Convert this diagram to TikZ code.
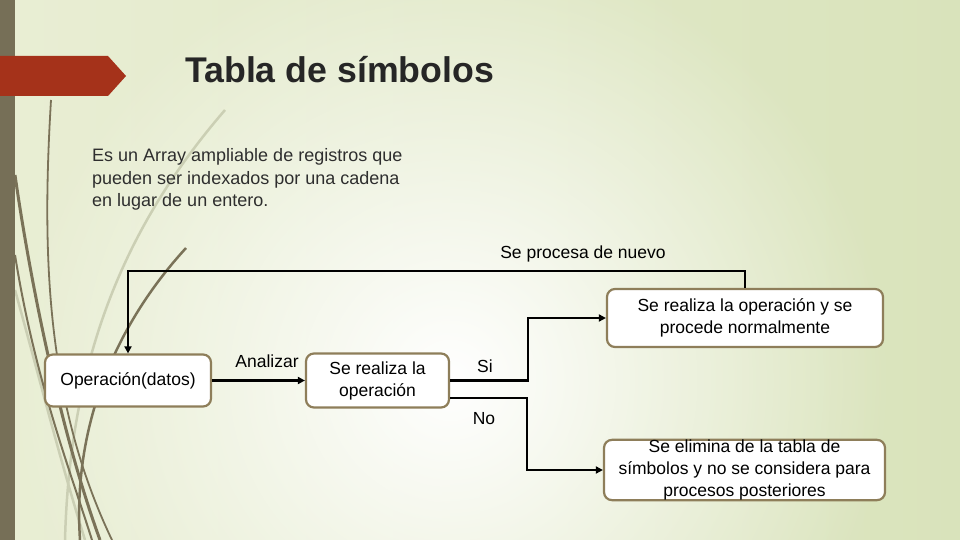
\documentclass[tikz,border=0pt]{standalone}
\usepackage{fontspec}
\setmainfont{Liberation Sans}
\usetikzlibrary{arrows.meta,fadings}
\definecolor{bar}{HTML}{766F57}
\definecolor{redarr}{HTML}{A5321A}
\definecolor{bgL}{HTML}{E9EED4}
\definecolor{bgR}{HTML}{D9E3BB}
\definecolor{boxline}{HTML}{8E7E5A}
\definecolor{curve}{HTML}{7A7258}
\definecolor{curvelight}{HTML}{CBCFB4}
\definecolor{bodytext}{HTML}{2E2E2E}
\tikzfading[name=myfade, inner color=transparent!0, outer color=transparent!100]
\tikzset{
  box/.style={draw=boxline, line width=2.2pt, fill=white, rounded corners=8pt,
    inner sep=0pt, align=center, font=\fontsize{17.5}{22}\selectfont},
  arr/.style={line width=2.4pt, -{Triangle[length=7pt,width=7pt]}},
  lbl/.style={font=\fontsize{17.5}{22}\selectfont, inner sep=0pt},
  body/.style={font=\fontsize{18}{22}\selectfont, text=bodytext, inner sep=0pt, anchor=base west},
  deco/.style={draw=curve, line width=2.5pt},
  decolight/.style={draw=curvelight, line width=2.5pt}
}
\begin{document}
\begin{tikzpicture}[x=1pt,y=-1pt]
\useasboundingbox (0,0) rectangle (960,540);
% background
\shade[left color=bgL, right color=bgR] (0,0) rectangle (960,540);
\fill[white, path fading=myfade, fit fading=true] (450,380) circle (440);
% decorative curves
\begin{scope}
\clip (0,0) rectangle (960,540);
\draw[decolight] (225,110) .. controls (130,220) and (70,350) .. (65,540);
\draw[decolight] (15,290) .. controls (40,380) and (60,460) .. (85,540);
\draw[deco, line width=1.8pt] (51,100) .. controls (42,250) and (45,400) .. (112,540);
\draw[deco, line width=3pt] (15,175) .. controls (30,280) and (60,430) .. (100,540);
\draw[deco, line width=2pt] (15,255) .. controls (35,380) and (70,470) .. (92,540);
\draw[deco, line width=2.5pt] (186,248) .. controls (120,320) and (72,420) .. (80,540);
\end{scope}
% left bar and red arrow
\fill[bar] (0,0) rectangle (15,540);
\fill[redarr] (0,56) -- (108,56) -- (126,76) -- (108,96) -- (0,96) -- cycle;
% title
\node[anchor=base west, inner sep=0pt, text=black!85, font=\bfseries\fontsize{35.7}{40}\selectfont] (title) at (185,83) {Tabla de símbolos};
% body text
\node[body] (t1) at (92,162) {Es un Array ampliable de registros que};
\node[body] (t2) at (92,184) {pueden ser indexados por una cadena};
\node[body] (t3) at (92,206) {en lugar de un entero.};
% boxes
\node[box, minimum width=166pt, minimum height=52pt] (A) at (128,380.5) {Operación(datos)};
\node[box, minimum width=143pt, minimum height=54pt] (B) at (377.5,380.5) {Se realiza la\\operación};
\node[box, minimum width=276pt, minimum height=58pt] (C) at (745,318) {Se realiza la operación y se\\procede normalmente};
\node[box, minimum width=281pt, minimum height=60pt] (D) at (744.5,470) {Se elimina de la tabla de\\símbolos y no se considera para\\procesos posteriores};
% connectors
\draw[arr] (A.east) -- (B.west);
\coordinate (si) at (528,380.5);
\coordinate (no) at (527,398);
\draw[arr] (B.east) -- (si) |- (C.west);
\draw[arr] (B.east |- no) -- (no) |- (D.west);
\coordinate (top) at (745,271);
\draw[arr] (C.north) -- (top) -| (A.north);
% labels
\node[lbl] (lanal) at (267,361) {Analizar};
\node[lbl] (lsi) at (485,366) {Si};
\node[lbl] (lno) at (484,419) {No};
\node[lbl] (lnuevo) at (583,254) {Se procesa de nuevo};
\end{tikzpicture}
\end{document}
